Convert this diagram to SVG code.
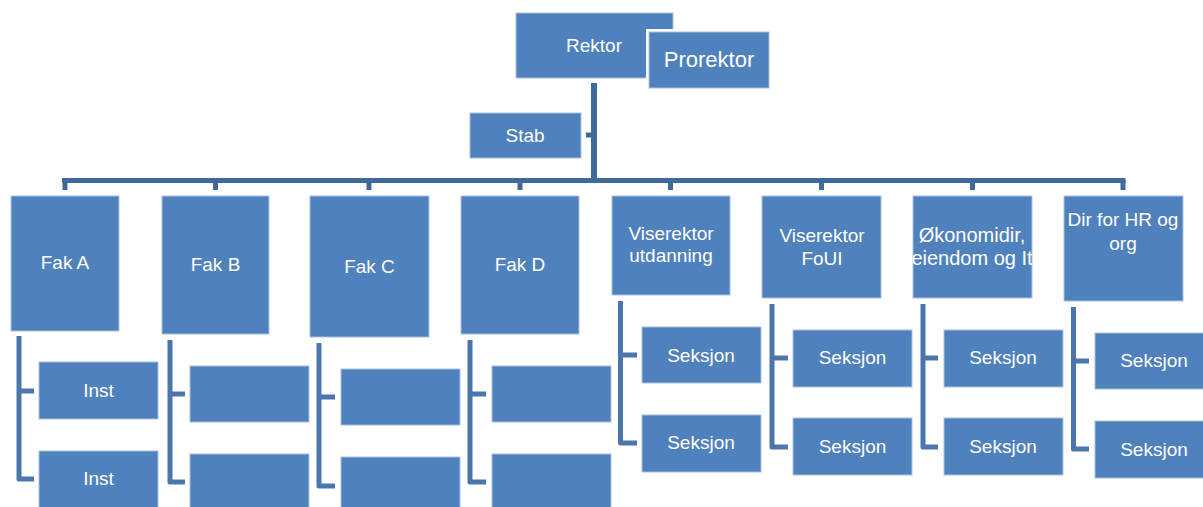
<svg xmlns="http://www.w3.org/2000/svg" width="1203" height="507" viewBox="0 0 1203 507">
<style>
.box{fill:#4F81BD;stroke:#A9C1DF;stroke-width:1}
.t{font-family:"Liberation Sans",Arial,sans-serif;font-size:19px;fill:#FFFFFF;text-anchor:middle}
.top{stroke:#3F6A9C;stroke-width:6;fill:none}
.stub{stroke:#3F6A9C;stroke-width:5;fill:none}
.ch{stroke:#4A76AD;stroke-width:5;fill:none;stroke-linejoin:round}
</style>
<defs>
<clipPath id="clipOk"><rect x="913" y="196" width="119" height="102"/></clipPath>
</defs>
<rect width="1203" height="507" fill="#FFFFFF"/>
<g id="connectors">
<path class="top" d="M594,83 V183"/>
<path class="stub" d="M62,180.5 H1125.5"/>
<path class="stub" d="M586,135 H592"/>
<path class="stub" d="M65,180 V190 M215.5,180 V190 M369,180 V190 M520,180 V190 M670.5,180 V190 M821.5,180 V190 M972.5,180 V190 M1123,180 V190"/>
<path class="ch" d="M19,336 V479 H34 M19,391 H34"/>
<path class="ch" d="M170,340 V482 H185 M170,394 H185"/>
<path class="ch" d="M319,343 V486 H335 M319,397 H335"/>
<path class="ch" d="M470,340 V482 H486 M470,394 H486"/>
<path class="ch" d="M620.5,301 V443 H637 M620.5,355 H637"/>
<path class="ch" d="M772,304 V447 H788 M772,358 H788"/>
<path class="ch" d="M923,304 V447 H938 M923,358 H938"/>
<path class="ch" d="M1073.5,307 V449 H1089 M1073.5,361 H1089"/>
</g>
<g id="rektor"><rect class="box" x="516" y="13" width="157" height="65"/><text class="t" x="594" y="52">Rektor</text></g>
<g id="prorektor"><rect x="646" y="29" width="126" height="62" fill="#FFFFFF"/><rect class="box" x="649" y="32" width="120" height="56"/><text class="t" x="709" y="67" style="font-size:22px">Prorektor</text></g>
<g id="stab"><rect class="box" x="470" y="113" width="111" height="45"/><text class="t" x="525" y="142">Stab</text></g>
<g id="fakA"><rect class="box" x="11" y="196" width="108" height="135"/><text class="t" x="65" y="269">Fak A</text></g>
<g id="fakB"><rect class="box" x="162" y="196" width="107" height="138"/><text class="t" x="215.5" y="271">Fak B</text></g>
<g id="fakC"><rect class="box" x="310" y="196" width="119" height="141"/><text class="t" x="369.5" y="273">Fak C</text></g>
<g id="fakD"><rect class="box" x="461" y="196" width="118" height="138"/><text class="t" x="520" y="271">Fak D</text></g>
<g id="vrUtd"><rect class="box" x="612" y="196" width="118" height="99"/><text class="t" x="671" y="240">Viserektor</text><text class="t" x="671" y="262">utdanning</text></g>
<g id="vrFoUI"><rect class="box" x="762" y="196" width="119" height="102"/><text class="t" x="822" y="242">Viserektor</text><text class="t" x="822" y="265">FoUI</text></g>
<g id="okonomi"><rect class="box" x="913" y="196" width="119" height="102"/><g clip-path="url(#clipOk)"><text class="t" x="972" y="242" style="font-size:20px">Økonomidir,</text><text class="t" x="972" y="265" style="font-size:20px">eiendom og It</text></g></g>
<g id="dirHR"><rect class="box" x="1064" y="196" width="119" height="105"/><text class="t" x="1123" y="226">Dir for HR og</text><text class="t" x="1123" y="250">org</text></g>
<g id="instA1"><rect class="box" x="39" y="362" width="119" height="57"/><text class="t" x="98.5" y="397">Inst</text></g>
<g id="instA2"><rect class="box" x="39" y="451" width="119" height="57"/><text class="t" x="98.5" y="485">Inst</text></g>
<g id="b1"><rect class="box" x="190" y="366" width="119" height="56"/></g>
<g id="b2"><rect class="box" x="190" y="454" width="119" height="57"/></g>
<g id="c1"><rect class="box" x="341" y="369" width="119" height="56"/></g>
<g id="c2"><rect class="box" x="341" y="457" width="119" height="57"/></g>
<g id="d1"><rect class="box" x="492" y="366" width="119" height="56"/></g>
<g id="d2"><rect class="box" x="492" y="454" width="119" height="57"/></g>
<g id="vu1"><rect class="box" x="642" y="327" width="119" height="56"/><text class="t" x="701" y="362">Seksjon</text></g>
<g id="vu2"><rect class="box" x="642" y="415" width="119" height="57"/><text class="t" x="701" y="449">Seksjon</text></g>
<g id="vf1"><rect class="box" x="793" y="330" width="119" height="57"/><text class="t" x="852.5" y="364">Seksjon</text></g>
<g id="vf2"><rect class="box" x="793" y="418" width="119" height="57"/><text class="t" x="852.5" y="453">Seksjon</text></g>
<g id="ok1"><rect class="box" x="944" y="330" width="119" height="57"/><text class="t" x="1003" y="364">Seksjon</text></g>
<g id="ok2"><rect class="box" x="944" y="418" width="119" height="57"/><text class="t" x="1003" y="453">Seksjon</text></g>
<g id="hr1"><rect class="box" x="1095" y="333" width="119" height="56"/><text class="t" x="1154" y="367">Seksjon</text></g>
<g id="hr2"><rect class="box" x="1095" y="421" width="119" height="57"/><text class="t" x="1154" y="456">Seksjon</text></g>
</svg>
